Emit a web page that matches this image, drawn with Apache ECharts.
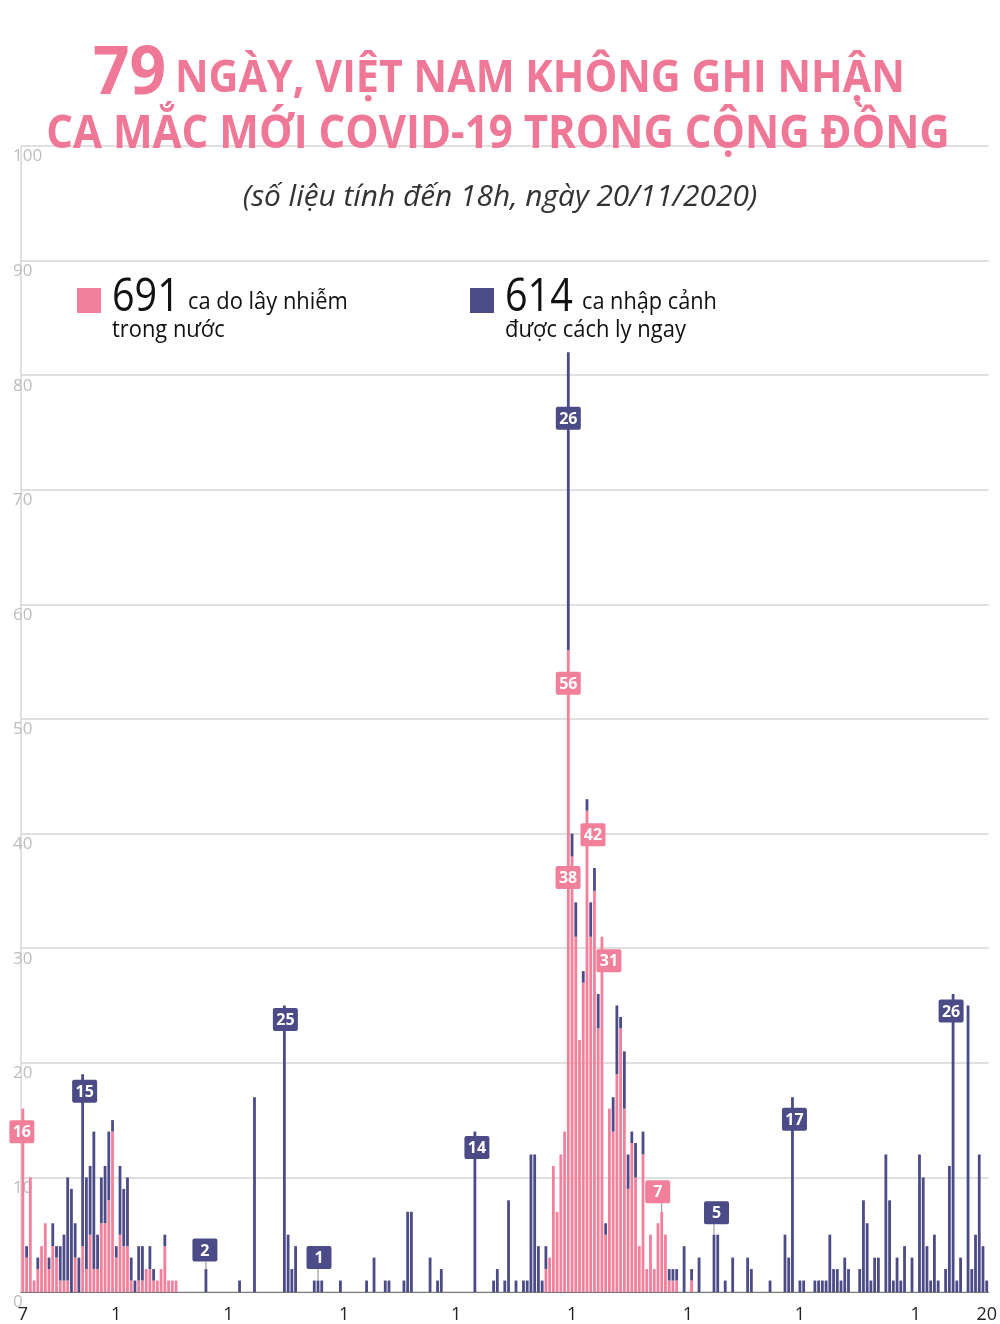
<!DOCTYPE html>
<html><head><meta charset="utf-8">
<script src="https://cdn.jsdelivr.net/npm/echarts@6/dist/echarts.min.js"></script>
<style>html,body{margin:0;padding:0;background:#fff}#c{width:1000px;height:1324px}</style>
</head><body><div id="c"></div>
<script>
// ---------- DATA ----------
const firstDay = [2020, 3, 7];           // 7 March 2020
const dayCount = 259;                    // 7/3 .. 20/11
const tickDates = ['7/3','1/4','1/5','1/6','1/7','1/8','1/9','1/10','1/11','20/11'];

// domestic (pink) cases per day
const domestic = [
 16,3,10,1,2,4,6,2,4,3,
 1,1,1,0,3,0,4,2,5,2,
 2,6,6,8,14,3,5,4,4,1,
 0,1,1,2,2,1,1,2,4,1,
 1,1,0,0,0,0,0,0,0,0,
 0,0,0,0,0,0,0,0,0,0,
 0,0,0,0,0,0,0,0,0,0,
 0,0,0,0,0,0,0,0,0,0,
 0,0,0,0,0,0,0,0,0,0,
 0,0,0,0,0,0,0,0,0,0,
 0,0,0,0,0,0,0,0,0,0,
 0,0,0,0,0,0,0,0,0,0,
 0,0,0,0,0,0,0,0,0,0,
 0,0,0,0,0,0,0,0,0,0,
 2,3,11,7,12,14,56,38,31,22,
 27,42,31,35,23,31,5,16,14,19,
 23,16,9,13,10,4,12,2,5,2,
 6,7,5,1,1,1,0,0,0,1,
 0,0,0,0,0,0,0,0,0,0,
 0,0,0,0,0,0,0,0,0,0,
 0,0,0,0,0,0,0,0,0,0,
 0,0,0,0,0,0,0,0,0,0,
 0,0,0,0,0,0,0,0,0,0,
 0,0,0,0,0,0,0,0,0,0,
 0,0,0,0,0,0,0,0,0,0,
 0,0,0,0,0,0,0,0,0
];
// imported, quarantined on arrival (navy) cases per day
const imported = [
 0,1,0,0,1,0,0,1,2,1,
 3,4,9,9,3,3,15,8,6,12,
 3,4,5,6,1,1,6,5,6,2,
 1,3,3,0,2,1,0,0,1,0,
 0,0,0,0,0,0,0,0,0,2,
 0,0,0,0,0,0,0,0,1,0,
 0,0,17,0,0,0,0,0,0,0,
 25,5,2,4,0,0,0,0,1,1,
 1,0,0,0,0,1,0,0,0,0,
 0,0,1,0,3,0,0,1,1,0,
 0,0,1,7,7,0,0,0,0,3,
 0,1,2,0,0,0,0,0,0,0,
 0,14,0,0,0,0,1,2,0,1,
 8,0,1,0,1,1,12,12,4,1,
 2,0,0,0,0,0,26,2,3,0,
 1,1,3,2,3,0,1,0,3,6,
 1,5,3,1,3,0,2,0,0,0,
 0,0,0,1,1,1,0,4,0,1,
 0,3,0,0,0,5,5,0,1,0,
 3,0,0,0,3,2,0,0,0,0,
 1,0,0,0,5,3,17,0,1,1,
 0,0,1,1,1,1,5,2,2,1,
 3,2,0,0,2,8,6,1,3,3,
 0,12,8,1,3,1,4,0,3,0,
 12,10,4,1,5,1,0,2,11,26,
 1,3,0,25,2,5,12,4,1
];
// annotated days (index into the day list) and which series the value belongs to
const annoDays  = [0, 16, 49, 70, 79, 121, 146, 146, 147, 151, 155, 171, 185, 206, 249];
const annoKinds = ['d','i','i','i','i','i','i','d','d','d','d','d','i','i','i'];
const totalDomestic = 691;
const totalImported = 614;

const titleBig = '79';
const titleLine1 = 'NGÀY, VIỆT NAM KHÔNG GHI NHẬN';
const titleLine2 = 'CA MẮC MỚI COVID-19 TRONG CỘNG ĐỒNG';
const subtitle = '(số liệu tính đến 18h, ngày 20/11/2020)';
const legendDomTail = 'ca do lây nhiễm';
const legendDomLine2 = 'trong nước';
const legendImpTail = 'ca nhập cảnh';
const legendImpLine2 = 'được cách ly ngay';

// ---------- BUILD ----------
const PINK = '#F2809B';
const NAVY = '#4B4B87';
const TITLE_PINK = '#EF7896';

const categories = [];
const t0 = Date.UTC(firstDay[0], firstDay[1] - 1, firstDay[2]);
for (let i = 0; i < dayCount; i++) {
  const d = new Date(t0 + i * 86400000);
  categories.push(d.getUTCDate() + '/' + (d.getUTCMonth() + 1));
}
const tickSet = new Set(tickDates);

const domData = domestic.map(v => v === 0 ? '-' : v);
const impData = imported.map(v => v === 0 ? '-' : v);

// style per annotation: [dx, dy, leader]
const annoStyle = [
  [-1, 23, 0], [2, 17, 0], [-1, -19, 1], [1, 14, 0], [1, -23, 1], [2, 16, 0],
  [0, 66, 0], [0, 33, 0], [-4, 21, 0], [6, 24, 0], [7, 24, 0], [-4, -20, 1],
  [2.5, -22, 1], [2, 22, 0], [-2, 17, 0]
];
const annoData = annoDays.map((day, k) => {
  const isDom = annoKinds[k] === 'd';
  const top = isDom ? domestic[day] : domestic[day] + imported[day];
  const val = isDom ? domestic[day] : imported[day];
  return [day, top, val, k];
});

const chart = echarts.init(document.getElementById('c'), null, {renderer: 'canvas'});
const FONT = '"Open Sans", "Noto Sans", sans-serif';

function txt(x, y, text, font, fill, align, scaleX) {
  return {type: 'text', x: x, y: y, scaleX: scaleX, z: 20,
    style: {text: text, fill: fill, font: font, textAlign: align, textVerticalAlign: 'middle',
      align: align, verticalAlign: 'middle'}};
}

chart.setOption({
  animation: false,
  backgroundColor: '#ffffff',
  grid: {left: 21, right: 3, top: 146, bottom: 26, containLabel: false},
  xAxis: {
    type: 'category',
    data: categories,
    boundaryGap: true,
    axisLine: {show: true, lineStyle: {color: '#777', width: 1}},
    axisTick: {show: false},
    axisLabel: {
      interval: (idx, val) => tickSet.has(val),
      formatter: v => v.split('/')[0],
      color: '#222', fontSize: 18, fontFamily: FONT, margin: 14,
      showMinLabel: true, showMaxLabel: true
    },
    splitLine: {show: false}
  },
  yAxis: {
    type: 'value', min: 0, max: 100, interval: 10,
    axisLine: {show: true, lineStyle: {color: '#d6d6d6', width: 1.5}},
    axisTick: {show: false},
    axisLabel: {
      color: '#bdbdbd', fontSize: 17, fontFamily: FONT,
      align: 'left', verticalAlign: 'top', margin: 8, padding: [2, 0, 0, 0]
    },
    splitLine: {show: true, lineStyle: {color: '#d6d6d6', width: 1.5}}
  },
  series: [
    {
      name: 'Trong nước', type: 'bar', stack: 'total', data: domData,
      barWidth: 2.8, itemStyle: {color: PINK}, z: 2
    },
    {
      name: 'Nhập cảnh', type: 'bar', stack: 'total', data: impData,
      barWidth: 2.8, itemStyle: {color: NAVY}, z: 2
    },
    {
      name: 'labels', type: 'custom', data: annoData, z: 10, silent: true, clip: false,
      encode: {x: 0, y: 1},
      renderItem: function (params, api) {
        const k = api.value(3);
        const p = api.coord([api.value(0), api.value(1)]);
        const st = annoStyle[k];
        const cx = p[0] + st[0], cy = p[1] + st[1];
        const w = 25, h = 23;
        const color = annoKinds[k] === 'd' ? PINK : NAVY;
        const children = [];
        if (st[2]) {
          children.push({type: 'line', shape: {x1: p[0], y1: p[1], x2: p[0], y2: cy + h / 2},
            style: {stroke: '#8a8a8a', lineWidth: 1}});
        }
        children.push({type: 'rect', shape: {x: cx - w / 2, y: cy - h / 2, width: w, height: h, r: 2},
          style: {fill: color}});
        children.push({type: 'text', x: cx, y: cy + 1, style: {text: String(api.value(2)), fill: '#fff',
          font: 'bold 16px ' + FONT, align: 'center', verticalAlign: 'middle',
          textAlign: 'center', textVerticalAlign: 'middle'}});
        return {type: 'group', children: children};
      }
    }
  ],
  graphic: [
    txt(93, 75, titleBig, 'bold 66px ' + FONT, TITLE_PINK, 'left', 0.97),
    txt(175, 79, titleLine1, 'bold 45px ' + FONT, TITLE_PINK, 'left', 0.918),
    txt(498, 135, titleLine2, 'bold 46px ' + FONT, TITLE_PINK, 'center', 0.914),
    txt(500, 197, subtitle, 'italic 30px ' + FONT, '#333', 'center', 0.995),
    {type: 'rect', shape: {x: 77, y: 288, width: 24, height: 25}, style: {fill: PINK}, z: 20},
    txt(112, 298, String(totalDomestic), '46px ' + FONT, '#111', 'left', 0.86),
    txt(188, 302, legendDomTail, '24px ' + FONT, '#111', 'left', 0.912),
    txt(112, 330, legendDomLine2, '24px ' + FONT, '#111', 'left', 0.912),
    {type: 'rect', shape: {x: 470, y: 288, width: 24, height: 25}, style: {fill: NAVY}, z: 20},
    txt(505, 298, String(totalImported), '46px ' + FONT, '#111', 'left', 0.86),
    txt(582, 302, legendImpTail, '24px ' + FONT, '#111', 'left', 0.905),
    txt(505, 330, legendImpLine2, '24px ' + FONT, '#111', 'left', 0.915)
  ]
});
</script>
</body></html>
